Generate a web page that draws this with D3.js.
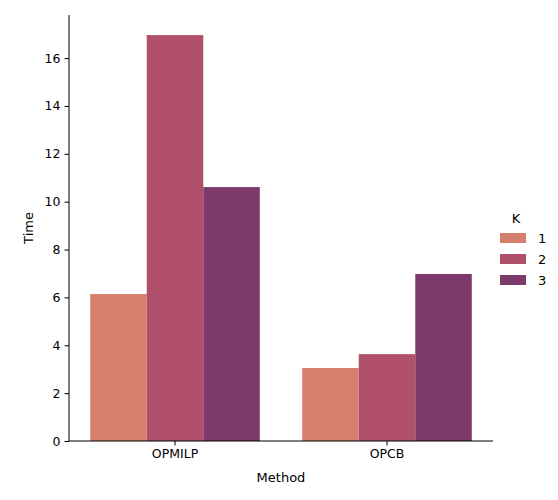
<!DOCTYPE html>
<html><head><meta charset="utf-8">
<script src="https://cdn.jsdelivr.net/npm/d3@7"></script>
<style>body{margin:0;background:#fff}text{font-family:"DejaVu Sans",sans-serif}</style>
</head><body><svg id="c" width="558" height="500"></svg>
<script>
const methods=["OPMILP","OPCB"];
const kLevels=["1","2","3"];
const values={"1":[6.14,3.05],"2":[16.96,3.63],"3":[10.61,6.98]};
const yTicks=[0,2,4,6,8,10,12,14,16];
const colors=["#d5806c","#b1506a","#7d3a6a"];

const svg=d3.select("#c");
const L=69,R=493,T=15,B=441;
const x=d3.scaleBand().domain(methods).range([L,R]);
const inner=d3.scaleBand().domain(kLevels).range([0,x.bandwidth()*0.8]);
const y=d3.scaleLinear().domain([0,17.8]).range([B,T]);

kLevels.forEach((k,ki)=>{
  svg.selectAll(null).data(methods).enter().append("rect")
    .attr("x",m=>x(m)+x.bandwidth()*0.1+inner(k))
    .attr("width",inner.bandwidth())
    .attr("y",(m,i)=>y(values[k][i]))
    .attr("height",(m,i)=>B-y(values[k][i]))
    .attr("fill",colors[ki]);
});

const ya=svg.append("g").attr("transform",`translate(${L},0)`)
  .call(d3.axisLeft(y).tickValues(yTicks).tickSize(4.5).tickPadding(4));
const xa=svg.append("g").attr("transform",`translate(0,${B})`)
  .call(d3.axisBottom(x).tickSize(4.5).tickPadding(4));
[ya,xa].forEach(a=>{a.selectAll("text").attr("font-size",12.5).attr("fill","#000").attr("font-family","DejaVu Sans");
  a.selectAll("line,path").attr("stroke","#000").attr("stroke-width",1);});
ya.select(".domain").attr("d",`M0,${B}V${T}`);
xa.select(".domain").attr("d",`M${L},0H${R}`);

svg.append("text").attr("x",L+(R-L)/2).attr("y",482).attr("text-anchor","middle").attr("font-size",13).text("Method");
svg.append("text").attr("transform",`translate(33,${(T+B)/2}) rotate(-90)`).attr("text-anchor","middle").attr("font-size",13).text("Time");

svg.append("text").attr("x",516).attr("y",223).attr("text-anchor","middle").attr("font-size",13).text("K");
kLevels.forEach((k,i)=>{
  const yy=238+i*21;
  svg.append("rect").attr("x",500).attr("y",yy-5).attr("width",26).attr("height",10).attr("fill",colors[i]);
  svg.append("text").attr("x",538).attr("y",yy+5).attr("font-size",13).text(k);
});
</script></body></html>
